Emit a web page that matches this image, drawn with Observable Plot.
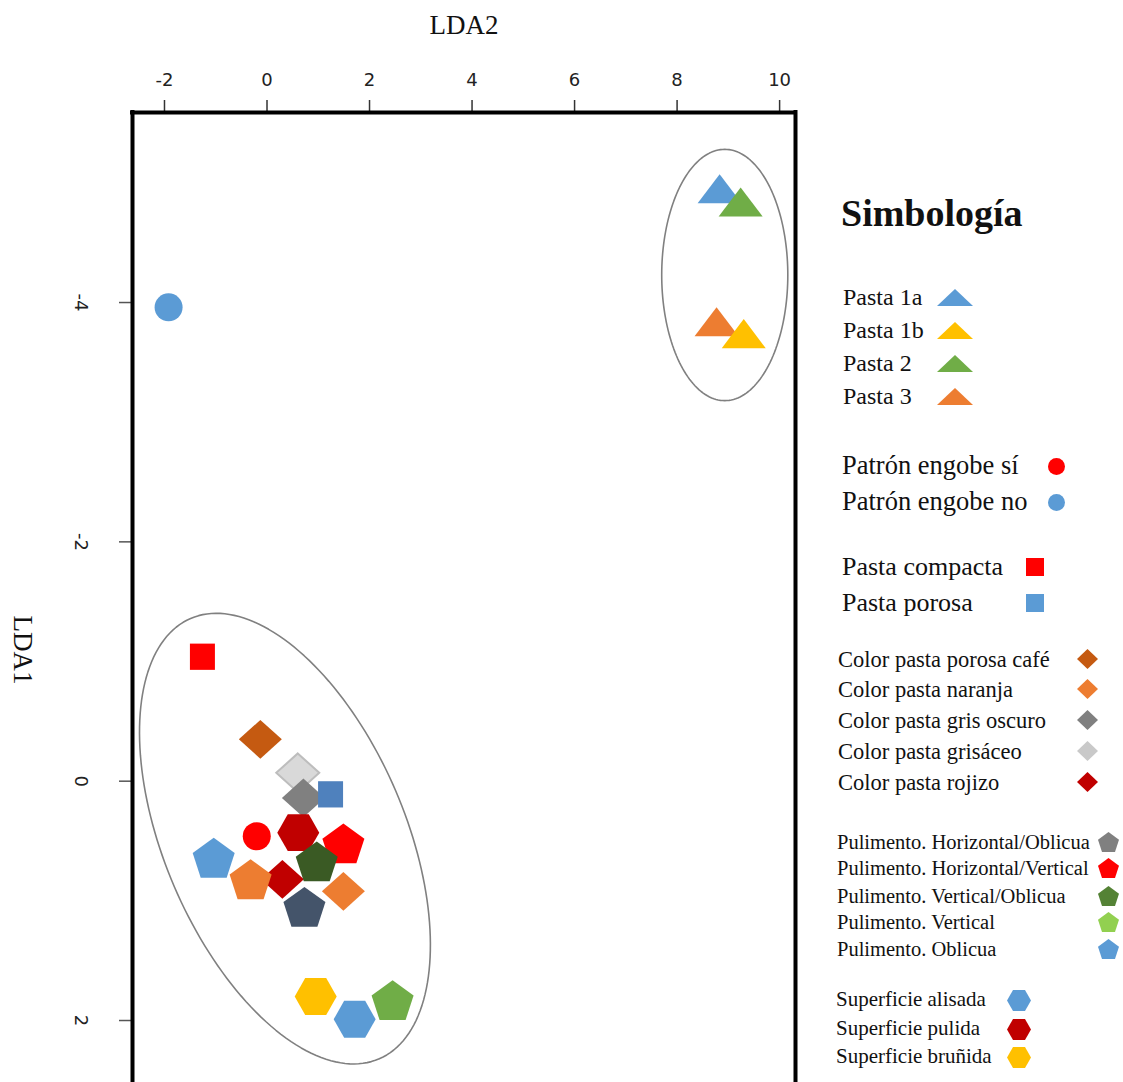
<!DOCTYPE html>
<html><head><meta charset="utf-8">
<script src="https://cdn.jsdelivr.net/npm/d3@7"></script>
<script src="https://cdn.jsdelivr.net/npm/@observablehq/plot@0.6"></script>
<style>
body{margin:0;background:#fff;}
#wrap{position:relative;width:1123px;height:1082px;overflow:hidden;background:#fff;}
#chart{position:absolute;left:0;top:0;}
.lt{position:absolute;font-family:"Liberation Serif","Times New Roman",serif;color:#111;white-space:nowrap;line-height:1.2;}
.li{position:absolute;overflow:visible;}
</style></head><body>
<div id="wrap"><div id="chart"></div><div id="legend"></div></div>
<script>
// ---------------- DATA ----------------
const pointCategory = [
  "Patrón engobe no",
  "Pasta 1a", "Pasta 2", "Pasta 3", "Pasta 1b",
  "Pasta compacta",
  "Color pasta porosa café", "Color pasta grisáceo", "Color pasta gris oscuro",
  "Pasta porosa",
  "Patrón engobe sí",
  "Superficie pulida",
  "Pulimento. Horizontal/Vertical",
  "Pulimento. Oblicua",
  "Pulimento (naranja)",
  "Color pasta rojizo",
  "Pulimento (azul oscuro)",
  "Pulimento. Vertical/Oblicua",
  "Color pasta naranja",
  "Superficie bruñida",
  "Superficie alisada",
  "Pulimento. Vertical"
];
const lda2 = [-1.92, 8.83, 9.24, 8.77, 9.30, -1.26, -0.13, 0.60, 0.71, 1.24, -0.20, 0.61, 1.49, -1.04, -0.32, 0.30, 0.73, 0.97, 1.49, 0.95, 1.71, 2.45];
const lda1 = [-3.96, -4.95, -4.84, -3.84, -3.74, -1.04, -0.35, -0.07, 0.14, 0.11, 0.46, 0.43, 0.52, 0.64, 0.82, 0.82, 1.05, 0.67, 0.92, 1.80, 1.99, 1.83];

const xTicks = [-2, 0, 2, 4, 6, 8, 10];
const yTicks = [-4, -2, 0, 2];

// group ellipses (centre and two semi-axis vectors, data units)
const ellipseCx = [8.93, 0.35];
const ellipseCy = [-4.23, 0.48];
const ellipseAx = [0, 1.84];
const ellipseAy = [1.05, 1.84];
const ellipseBx = [1.23, 2.16];
const ellipseBy = [0, -0.40];

// legend
const legendTitle = "Simbología";
const pastaLabels = ["Pasta 1a", "Pasta 1b", "Pasta 2", "Pasta 3"];
const pastaColors = ["#5B9BD5", "#FFC000", "#70AD47", "#ED7D31"];
const engobeLabels = ["Patrón engobe sí", "Patrón engobe no"];
const engobeColors = ["#FF0000", "#5B9BD5"];
const texturaLabels = ["Pasta compacta", "Pasta porosa"];
const texturaColors = ["#FF0000", "#5B9BD5"];
const colorPastaLabels = ["Color pasta porosa café", "Color pasta naranja", "Color pasta gris oscuro", "Color pasta grisáceo", "Color pasta rojizo"];
const colorPastaColors = ["#C55A11", "#ED7D31", "#808080", "#C9C9C9", "#C00000"];
const pulimentoLabels = ["Pulimento. Horizontal/Oblicua", "Pulimento. Horizontal/Vertical", "Pulimento. Vertical/Oblicua", "Pulimento. Vertical", "Pulimento. Oblicua"];
const pulimentoColors = ["#808080", "#FF0000", "#548235", "#92D050", "#5B9BD5"];
const superficieLabels = ["Superficie alisada", "Superficie pulida", "Superficie bruñida"];
const superficieColors = ["#5B9BD5", "#C00000", "#FFC000"];

// ---------------- SHAPES ----------------
function drawShape(ctx, kind, hw, hh) {
  if (kind === "circle") { ctx.moveTo(hw, 0); ctx.arc(0, 0, hw, 0, 2 * Math.PI); return; }
  let pts;
  if (kind === "triangle") pts = [[0, -hh], [hw, hh], [-hw, hh]];
  else if (kind === "square") pts = [[-hw, -hh], [hw, -hh], [hw, hh], [-hw, hh]];
  else if (kind === "diamond") pts = [[0, -hh], [hw, 0], [0, hh], [-hw, 0]];
  else if (kind === "pentagon") pts = d3.range(5).map(k => { const a = (-90 + 72 * k) * Math.PI / 180; return [Math.cos(a) * hw / 0.951, (Math.sin(a) + 0.0955) * hh / 0.9045]; });
  else if (kind === "hexagon") pts = d3.range(6).map(k => { const a = (60 * k) * Math.PI / 180; return [Math.cos(a) * hw, Math.sin(a) * hh / 0.866]; });
  ctx.moveTo(pts[0][0], pts[0][1]);
  for (let i = 1; i < pts.length; i++) ctx.lineTo(pts[i][0], pts[i][1]);
  ctx.closePath();
}
// plot marker style: half-width in px and height/width ratio
const plotShape = {
  circle: {r: 14, ratio: 1},
  triangle: {r: 22, ratio: 0.66},
  square: {r: 12.5, ratio: 1.05},
  diamond: {r: 21.5, ratio: 0.9},
  pentagon: {r: 21, ratio: 0.95},
  hexagon: {r: 21, ratio: 0.88}
};
const shapeNames = Object.keys(plotShape);
const shapeSymbols = shapeNames.map(k => ({
  draw(ctx, size) { const r = Math.sqrt(size / Math.PI); drawShape(ctx, k, r, r * plotShape[k].ratio); }
}));

// category -> [shape, fill, stroke]
const style = {};
pastaLabels.forEach((l, i) => style[l] = ["triangle", pastaColors[i]]);
engobeLabels.forEach((l, i) => style[l] = ["circle", engobeColors[i]]);
texturaLabels.forEach((l, i) => style[l] = ["square", texturaColors[i]]);
colorPastaLabels.forEach((l, i) => style[l] = ["diamond", colorPastaColors[i]]);
pulimentoLabels.forEach((l, i) => style[l] = ["pentagon", pulimentoColors[i]]);
superficieLabels.forEach((l, i) => style[l] = ["hexagon", superficieColors[i]]);
style["Pasta porosa"] = ["square", "#4F81BD"];
style["Color pasta grisáceo"] = ["diamond", "#D9D9D9", "#BDBDBD"];
style["Pulimento. Vertical/Oblicua"] = ["pentagon", "#3A5A24"];
style["Pulimento. Vertical"] = ["pentagon", "#70AD47"];
style["Pulimento (naranja)"] = ["pentagon", "#ED7D31"];
style["Pulimento (azul oscuro)"] = ["pentagon", "#44546A"];

const points = pointCategory.map((c, i) => ({cat: c, x: lda2[i], y: lda1[i]}));

const ellipseRows = [];
ellipseCx.forEach((cx, k) => {
  d3.range(0, 361, 2).forEach(deg => {
    const t = deg * Math.PI / 180;
    ellipseRows.push({k, x: cx + Math.cos(t) * ellipseAx[k] + Math.sin(t) * ellipseBx[k],
                         y: ellipseCy[k] + Math.cos(t) * ellipseAy[k] + Math.sin(t) * ellipseBy[k]});
  });
});

const xDomain = [-2.624, 10.31];
const yDomain = [-5.588, 2.518];

const chart = Plot.plot({
  width: 820, height: 1082,
  marginLeft: 132, marginRight: 25, marginTop: 112, marginBottom: 0,
  style: {fontFamily: "'DejaVu Sans', sans-serif", background: "#fff"},
  x: {domain: xDomain},
  y: {domain: yDomain, reverse: true},
  color: {type: "identity"},
  r: {type: "identity"},
  symbol: {domain: shapeNames, range: shapeSymbols},
  marks: [
    Plot.line(ellipseRows, {x: "x", y: "y", z: "k", stroke: "#808080", strokeWidth: 1.6}),
    Plot.dot(points, {
      x: "x", y: "y",
      symbol: d => style[d.cat][0],
      r: d => plotShape[style[d.cat][0]].r,
      fill: d => style[d.cat][1],
      stroke: d => style[d.cat][2] || "none",
      strokeWidth: 2
    }),
    Plot.axisX({anchor: "top", ticks: xTicks, tickSize: 13, tickPadding: 14, tickFormat: d => String(d),
      fontSize: 18, stroke: "#333", strokeWidth: 1.5, fill: "#222", label: null}),
    Plot.axisY({anchor: "left", ticks: yTicks, tickSize: 13, tickFormat: () => "", stroke: "#555", strokeWidth: 1.5, label: null}),
    Plot.text(yTicks, {y: d => d, text: d => String(d), frameAnchor: "left", dx: -52, rotate: 90,
      fontSize: 18, fill: "#222", textAnchor: "middle", lineAnchor: "middle"}),
    Plot.text([legendTitle], {text: () => "LDA2", frameAnchor: "top", dy: -87, fontSize: 27,
      fontFamily: "'Liberation Serif', serif", fill: "#111", lineAnchor: "middle"}),
    Plot.text([legendTitle], {text: () => "LDA1", frameAnchor: "left", dx: -110, dy: 18, rotate: 90, fontSize: 27,
      fontFamily: "'Liberation Serif', serif", fill: "#111", lineAnchor: "middle"}),
    Plot.ruleY([yDomain[0]], {stroke: "#000", strokeWidth: 4, strokeLinecap: "square"}),
    Plot.ruleX(xDomain, {stroke: "#000", strokeWidth: 4, strokeLinecap: "square"})
  ]
});
document.getElementById("chart").appendChild(chart);

// ---------------- LEGEND ----------------
const legend = document.getElementById("legend");
function addText(txt, left, cy, size, bold) {
  const d = document.createElement("div");
  d.className = "lt";
  d.textContent = txt;
  d.style.left = left + "px";
  d.style.top = (cy - size * 0.6) + "px";
  d.style.fontSize = size + "px";
  if (bold) d.style.fontWeight = "bold";
  legend.appendChild(d);
}
function addIcon(kind, cx, cy, hw, hh, fill) {
  const pad = 4;
  const svg = d3.create("svg").attr("class", "li")
    .attr("width", 2 * hw + 2 * pad).attr("height", 2 * hh + 2 * pad)
    .style("left", (cx - hw - pad) + "px").style("top", (cy - hh - pad) + "px");
  const p = d3.path();
  drawShape(p, kind, hw, hh);
  svg.append("path").attr("transform", `translate(${hw + pad},${hh + pad})`).attr("d", p.toString()).attr("fill", fill);
  legend.appendChild(svg.node());
}
addText(legendTitle, 841, 214, 38, true);
const groups = [
  {labels: pastaLabels, colors: pastaColors, kind: "triangle", left: 843, size: 24, rows: [297, 330, 363, 396], ix: 955, hw: 18, hh: 8.5},
  {labels: engobeLabels, colors: engobeColors, kind: "circle", left: 842, size: 26.5, rows: [466, 502], ix: 1056, hw: 8.5, hh: 8.5},
  {labels: texturaLabels, colors: texturaColors, kind: "square", left: 842, size: 26, rows: [567, 603], ix: 1035, hw: 9, hh: 9},
  {labels: colorPastaLabels, colors: colorPastaColors, kind: "diamond", left: 838, size: 22.5, rows: [659, 689, 720, 751, 782], ix: 1087, hw: 10.5, hh: 10},
  {labels: pulimentoLabels, colors: pulimentoColors, kind: "pentagon", left: 837, size: 20.5, rows: [842, 868, 896, 922, 949], ix: 1108, hw: 10.5, hh: 10},
  {labels: superficieLabels, colors: superficieColors, kind: "hexagon", left: 836, size: 21, rows: [1000, 1029, 1057], ix: 1019, hw: 12, hh: 10.5}
];
groups.forEach(g => {
  g.labels.forEach((l, i) => {
    addText(l, g.left, g.rows[i], g.size, false);
    addIcon(g.kind, g.ix, g.rows[i], g.hw, g.hh, g.colors[i]);
  });
});
</script>
</body></html>
